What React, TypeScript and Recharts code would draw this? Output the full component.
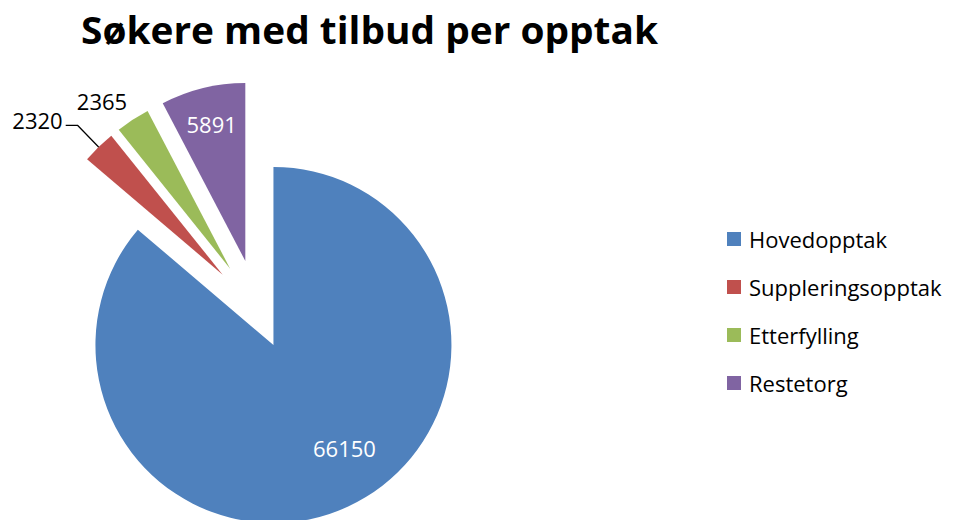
import React from 'react';
import { PieChart, Pie, Cell, Sector, Legend } from 'recharts';

const CATEGORIES = ['Hovedopptak', 'Suppleringsopptak', 'Etterfylling', 'Restetorg'];
const VALUES = [66150, 2320, 2365, 5891];
const COLORS = ['#4F81BD', '#C0504D', '#9BBB59', '#8064A2'];

// explosion distance (px) of each slice, like Excel's "point explosion"
const EXPLODE = [38, 50, 50, 51];
// label placement per slice: distance from slice tip and angle tweak (deg)
const LABEL_POS = [
  { r: 125, da: 9.8 },
  { r: 208, da: 0 },
  { r: 211, da: 4.2 },
  { r: 141, da: 0 },
];

const data = CATEGORIES.map((name, i) => ({ name, value: VALUES[i] }));

const RAD = Math.PI / 180;
const FONT = '"Open Sans", sans-serif';

const indexOf = (p: any) => {
  const n = p.name ?? p.payload?.name;
  const i = CATEGORIES.indexOf(n);
  return i >= 0 ? i : p.index ?? 0;
};

const offset = (i: number, midAngle: number) => {
  const d = EXPLODE[i] ?? 0;
  return { dx: d * Math.cos(-midAngle * RAD), dy: d * Math.sin(-midAngle * RAD) };
};

const ExplodedSector = (props: any) => {
  const i = indexOf(props);
  const { dx, dy } = offset(i, props.midAngle);
  return <Sector {...props} cx={props.cx + dx} cy={props.cy + dy} />;
};

const renderLabel = (props: any) => {
  const i = indexOf(props);
  const { cx, cy, midAngle, outerRadius, value } = props;
  const { dx, dy } = offset(i, midAngle);
  const vx = cx + dx;
  const vy = cy + dy;
  const pos = LABEL_POS[i];
  const a = (midAngle + pos.da) * RAD;
  const x = vx + pos.r * Math.cos(-a);
  const y = vy + pos.r * Math.sin(-a);

  if (i === 1) {
    // leader line label outside the slice
    const ax = vx + outerRadius * Math.cos(-a);
    const ay = vy + outerRadius * Math.sin(-a);
    return (
      <g>
        <path d={`M${ax},${ay}L${x},${y}L${x - 12},${y}`} stroke="#000" strokeWidth={1.2} fill="none" />
        <text x={x - 15} y={y - 5} textAnchor="end" dominantBaseline="central" fontFamily={FONT} fontSize={22} fill="#000">
          {value}
        </text>
      </g>
    );
  }
  const inside = i === 0 || i === 3;
  return (
    <text x={x} y={y} textAnchor="middle" dominantBaseline="central" fontFamily={FONT} fontSize={22} fill={inside ? '#fff' : '#000'}>
      {value}
    </text>
  );
};

const renderLegend = (props: any) => {
  const payload = [...(props.payload || [])].sort(
    (a: any, b: any) => CATEGORIES.indexOf(a.value) - CATEGORIES.indexOf(b.value)
  );
  return (
    <div style={{ fontFamily: FONT, fontSize: 22, color: '#000' }}>
      {payload.map((e: any) => (
        <div key={e.value} style={{ display: 'flex', alignItems: 'center', height: 48 }}>
          <span style={{ width: 14, height: 14, background: e.color, marginRight: 8, display: 'inline-block' }} />
          <span>{e.value}</span>
        </div>
      ))}
    </div>
  );
};

export default function App() {
  return (
    <div style={{ position: 'absolute', left: 0, top: 0, background: '#fff' }}>
      <PieChart width={953} height={520} margin={{ top: 0, right: 0, bottom: 0, left: 0 }}>
        <text
          x={81}
          y={44}
          fontFamily={FONT}
          fontWeight={700}
          fontSize={38}
          fill="#000"
          textLength={577}
          lengthAdjust="spacingAndGlyphs"
        >
          Søkere med tilbud per opptak
        </text>
        <Pie
          data={data}
          dataKey="value"
          nameKey="name"
          cx={257.5}
          cy={310.5}
          outerRadius={178}
          startAngle={90}
          endAngle={-270}
          stroke="none"
          isAnimationActive={false}
          shape={ExplodedSector}
          activeShape={ExplodedSector}
          inactiveShape={ExplodedSector}
          label={renderLabel}
          labelLine={false}
        >
          {data.map((d, i) => (
            <Cell key={d.name} fill={COLORS[i]} />
          ))}
        </Pie>
        <Legend
          layout="vertical"
          content={renderLegend}
          wrapperStyle={{ position: 'absolute', left: 727, top: 215, width: 220 }}
        />
      </PieChart>
    </div>
  );
}
